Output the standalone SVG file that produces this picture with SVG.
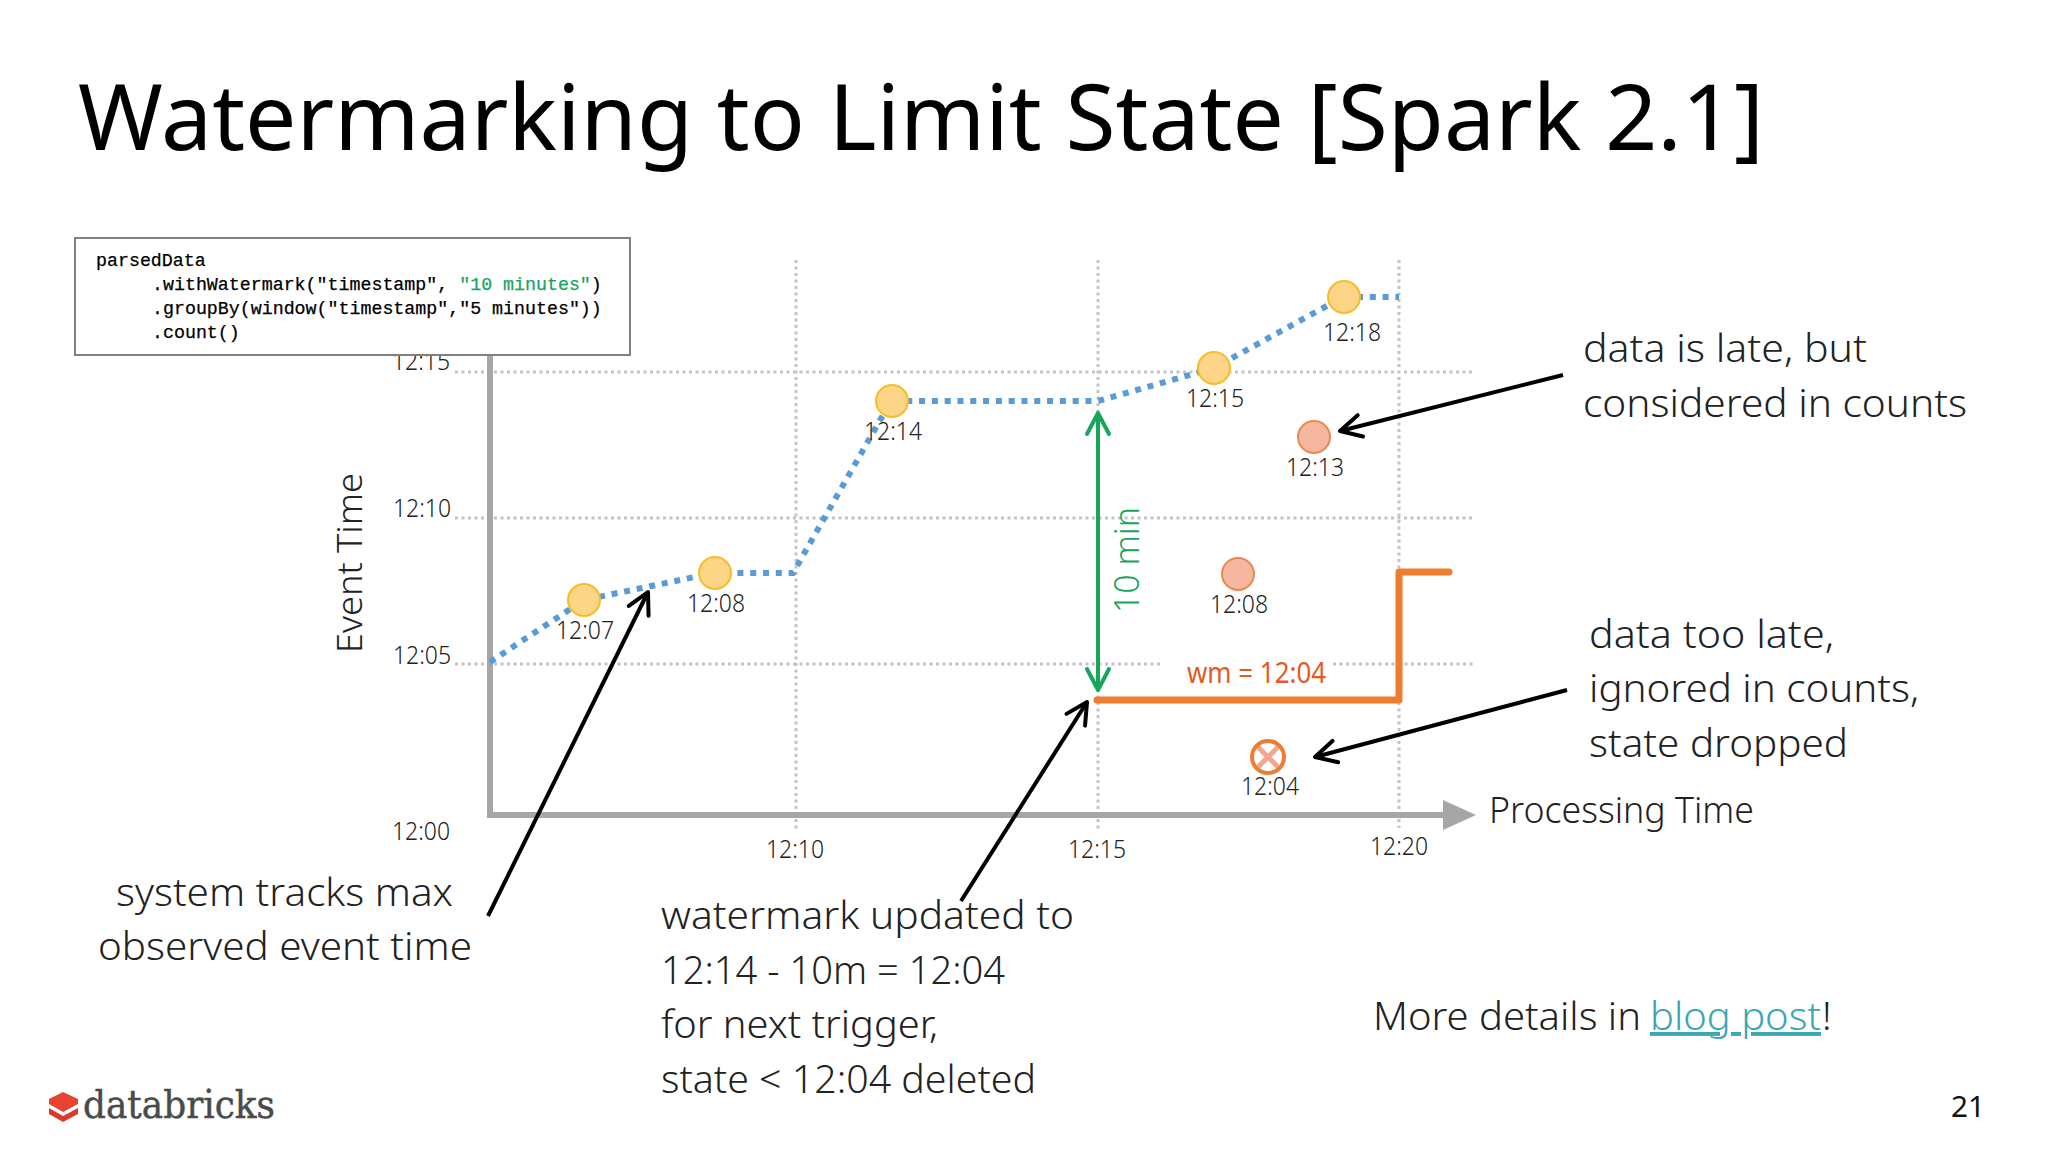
<svg xmlns="http://www.w3.org/2000/svg" width="2048" height="1152" viewBox="0 0 2048 1152">
<style>
text{font-family:"Noto Sans","Open Sans",sans-serif;font-weight:300;fill:#222}
.title{font-size:91px;font-weight:400;fill:#000}
.note{font-size:39px;fill:#222}
.tick{font-size:25px;fill:#222;text-anchor:middle}
.code{font-family:"Liberation Mono",monospace;font-size:18.3px;font-weight:400;fill:#000;stroke:#000;stroke-width:.25;white-space:pre}
.grid{fill:none;stroke:#c4c4c4;stroke-width:3;stroke-dasharray:3 3.5}
.axis{fill:none;stroke:#a6a6a6;stroke-width:6}
.early{fill:#fdd587;stroke:#f4bd2c;stroke-width:2}
.late{fill:#f5b7a0;stroke:#e98a4e;stroke-width:2}
.blk{fill:none;stroke:#000;stroke-width:4;marker-end:url(#open)}
.grn{fill:none;stroke:#17a65a;stroke-width:4;marker-start:url(#opengS);marker-end:url(#openg)}
</style>
<defs>
<marker id="open" markerUnits="userSpaceOnUse" markerWidth="30" markerHeight="30" refX="26" refY="15" orient="auto"><path d="M5 4 L26 15 L5 26" fill="none" stroke="#000" stroke-width="4" stroke-linecap="round" stroke-linejoin="round"/></marker>
<marker id="openg" markerUnits="userSpaceOnUse" markerWidth="30" markerHeight="30" refX="26" refY="15" orient="auto"><path d="M5 4 L26 15 L5 26" fill="none" stroke="#17a65a" stroke-width="4" stroke-linecap="round" stroke-linejoin="round"/></marker>
<marker id="opengS" markerUnits="userSpaceOnUse" markerWidth="30" markerHeight="30" refX="4" refY="15" orient="auto"><path d="M25 4 L4 15 L25 26" fill="none" stroke="#17a65a" stroke-width="4" stroke-linecap="round" stroke-linejoin="round"/></marker>
</defs>
<rect width="2048" height="1152" fill="#fff"/>
<text id="title" class="title" x="78" y="150" textLength="1686" lengthAdjust="spacingAndGlyphs">Watermarking to Limit State [Spark 2.1]</text>

<g id="grid">
<path class="grid" d="M455 372H1473M455 518H1473M455 664H1160M1333 664H1473M796 260V830M1098 260V832M1399 260V828"/>
</g>
<g id="axes">
<path class="axis" d="M490 355V815H1445"/>
<polygon points="1443,800 1476,815 1443,830" fill="#a6a6a6"/>
</g>
<g id="axis-labels">
<text class="tick" x="421" y="370" textLength="58" lengthAdjust="spacingAndGlyphs">12:15</text>
<text class="tick" x="422" y="517" textLength="58" lengthAdjust="spacingAndGlyphs">12:10</text>
<text class="tick" x="422" y="664" textLength="58" lengthAdjust="spacingAndGlyphs">12:05</text>
<text class="tick" x="421" y="840" textLength="58" lengthAdjust="spacingAndGlyphs">12:00</text>
<text class="tick" x="795" y="858" textLength="58" lengthAdjust="spacingAndGlyphs">12:10</text>
<text class="tick" x="1097" y="858" textLength="58" lengthAdjust="spacingAndGlyphs">12:15</text>
<text class="tick" x="1399" y="855" textLength="58" lengthAdjust="spacingAndGlyphs">12:20</text>
<text x="362" y="653" transform="rotate(-90 362 653)" font-size="35" textLength="180" lengthAdjust="spacingAndGlyphs">Event Time</text>
<text x="1489" y="823" font-size="36" textLength="265" lengthAdjust="spacingAndGlyphs">Processing Time</text>
</g>

<g id="connectors">
<path d="M490 662L584 600L714 573L793 573L891 401L1098 401L1214 368L1343 297L1399 297" fill="none" stroke="#5b9bd5" stroke-width="6" stroke-dasharray="6 6.8"/>
<path d="M1097 700H1399V572H1449" fill="none" stroke="#ed7d31" stroke-width="7" stroke-linecap="round" stroke-linejoin="round"/>
<path class="grn" d="M1098 413V690"/>
<path class="blk" d="M1563 375L1340 431"/>
<path class="blk" d="M1567 690L1315 757"/>
<path class="blk" d="M488 916L648 592"/>
<path class="blk" d="M961 901L1087 702"/>
</g>

<g id="ev-1207"><circle class="early" cx="584" cy="600" r="16"/><text class="tick" x="585" y="639" textLength="58" lengthAdjust="spacingAndGlyphs">12:07</text></g>
<g id="ev-1208"><circle class="early" cx="715" cy="573" r="16"/><text class="tick" x="716" y="612" textLength="58" lengthAdjust="spacingAndGlyphs">12:08</text></g>
<g id="ev-1214"><circle class="early" cx="892" cy="401" r="16"/><text class="tick" x="893" y="440" textLength="58" lengthAdjust="spacingAndGlyphs">12:14</text></g>
<g id="ev-1215"><circle class="early" cx="1214" cy="368" r="16"/><text class="tick" x="1215" y="407" textLength="58" lengthAdjust="spacingAndGlyphs">12:15</text></g>
<g id="ev-1218"><circle class="early" cx="1344" cy="297" r="16"/><text class="tick" x="1352" y="341" textLength="58" lengthAdjust="spacingAndGlyphs">12:18</text></g>
<g id="ev-late-1213"><circle class="late" cx="1314" cy="437" r="16"/><text class="tick" x="1315" y="476" textLength="58" lengthAdjust="spacingAndGlyphs">12:13</text></g>
<g id="ev-late-1208"><circle class="late" cx="1238" cy="574" r="16"/><text class="tick" x="1239" y="613" textLength="58" lengthAdjust="spacingAndGlyphs">12:08</text></g>
<g id="ev-dropped-1204">
<path d="M1258 747L1278 767M1278 747L1258 767" stroke="#f4a78f" stroke-width="5" fill="none"/>
<circle cx="1268" cy="757" r="16" fill="none" stroke="#ed7d31" stroke-width="4"/>
<text class="tick" x="1270" y="795" textLength="58" lengthAdjust="spacingAndGlyphs">12:04</text></g>

<text id="wm-label" x="1187" y="683" font-size="29" style="fill:#e35a1f;font-weight:400" textLength="139" lengthAdjust="spacingAndGlyphs">wm = 12:04</text>
<text id="ten-min" x="1139" y="613" transform="rotate(-90 1139 613)" font-size="35" style="fill:#17a65a" textLength="106" lengthAdjust="spacingAndGlyphs">10 min</text>

<g id="code-box">
<rect x="75" y="238" width="555" height="117" fill="#fff" stroke="#808080" stroke-width="2"/>
<text class="code" x="96" y="265.5">parsedData</text>
<text class="code" x="152" y="289.5">.withWatermark("timestamp", <tspan style="fill:#17a65a;stroke:#17a65a">"10 minutes"</tspan>)</text>
<text class="code" x="152" y="313.5">.groupBy(window("timestamp","5 minutes"))</text>
<text class="code" x="152" y="337.5">.count()</text>
</g>

<g id="note-late">
<text class="note" x="1583" y="362" textLength="284" lengthAdjust="spacingAndGlyphs">data is late, but</text>
<text class="note" x="1583" y="417" textLength="384" lengthAdjust="spacingAndGlyphs">considered in counts</text>
</g>
<g id="note-too-late">
<text class="note" x="1589" y="648" textLength="245" lengthAdjust="spacingAndGlyphs">data too late,</text>
<text class="note" x="1589" y="702" textLength="330" lengthAdjust="spacingAndGlyphs">ignored in counts,</text>
<text class="note" x="1589" y="757" textLength="259" lengthAdjust="spacingAndGlyphs">state dropped</text>
</g>
<g id="note-system">
<text class="note" x="116" y="906" textLength="337" lengthAdjust="spacingAndGlyphs">system tracks max</text>
<text class="note" x="98" y="960" textLength="374" lengthAdjust="spacingAndGlyphs">observed event time</text>
</g>
<g id="note-watermark">
<text class="note" x="661" y="929" textLength="413" lengthAdjust="spacingAndGlyphs">watermark updated to</text>
<text class="note" x="661" y="984" textLength="344" lengthAdjust="spacingAndGlyphs">12:14 - 10m = 12:04</text>
<text class="note" x="661" y="1038" textLength="277" lengthAdjust="spacingAndGlyphs">for next trigger,</text>
<text class="note" x="661" y="1093" textLength="375" lengthAdjust="spacingAndGlyphs">state &lt; 12:04 deleted</text>
</g>
<g id="note-details">
<text class="note" x="1373" y="1030" textLength="268" lengthAdjust="spacingAndGlyphs">More details in</text>
<text class="note" x="1650" y="1030" style="fill:#3ba6b5;text-decoration:underline;text-decoration-skip-ink:none;text-decoration-thickness:1.5px" textLength="171" lengthAdjust="spacingAndGlyphs">blog post</text>
<text class="note" x="1822" y="1030">!</text>
</g>
<g id="logo">
<polygon points="49,1099 63,1092 78,1099 78,1104 63,1112 49,1104" fill="#e8432e"/>
<polygon points="49,1108 63,1116 78,1108 78,1114 63,1122 49,1114" fill="#d93a2a"/>
<text x="83" y="1118" font-size="40" style="font-family:'DejaVu Serif',serif;font-weight:400;fill:#4a4a4a;stroke:#4a4a4a;stroke-width:.5" textLength="192" lengthAdjust="spacingAndGlyphs">databricks</text>
</g>
<text id="page" x="1951" y="1117" font-size="29" style="font-weight:400;fill:#111" textLength="34" lengthAdjust="spacingAndGlyphs">21</text>
</svg>
